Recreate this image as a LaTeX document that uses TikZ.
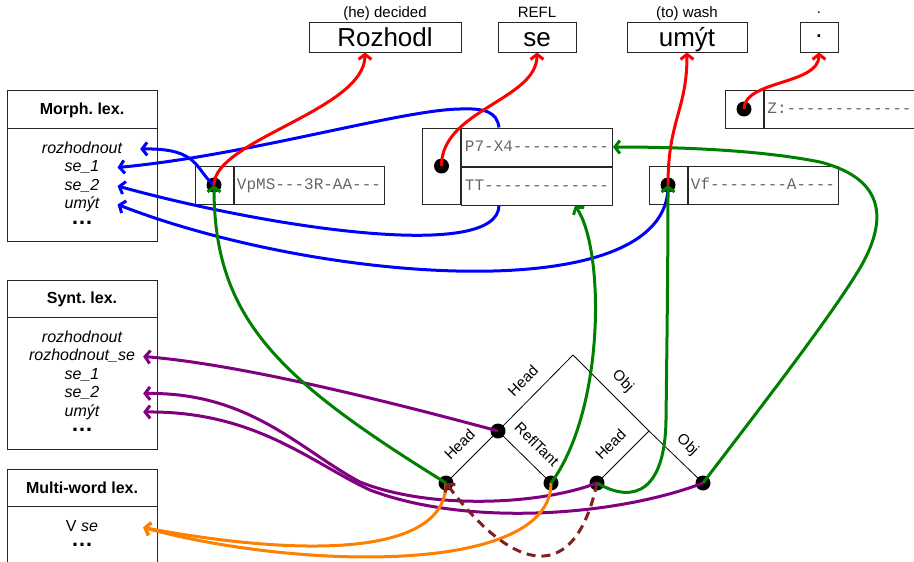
\documentclass[tikz,border=0pt]{standalone}
\usepackage{fontspec}
\setmainfont{Liberation Sans}
\setmonofont{Liberation Mono}
\usepackage{tikz}
\usetikzlibrary{arrows.meta,positioning,calc}
\frenchspacing

\definecolor{formred}{RGB}{255,0,0}
\definecolor{morphblue}{RGB}{0,0,255}
\definecolor{treegreen}{RGB}{0,128,0}
\definecolor{syntpurple}{RGB}{128,0,128}
\definecolor{mweorange}{RGB}{255,128,0}
\definecolor{sharebrown}{RGB}{128,32,32}

\tikzset{
  box/.style={draw=black!85, line width=1pt},
  lexhead/.style={font=\fontsize{16}{18}\selectfont\bfseries, text height=11.5pt, text depth=0pt, inner sep=0pt},
  lexitem/.style={font=\fontsize{16}{18}\selectfont\itshape, text height=11.5pt, text depth=3.5pt, inner xsep=18pt, inner ysep=0pt},
  lexslot/.style={font=\fontsize{16}{18}\selectfont\itshape, text height=11.5pt, text depth=3.5pt, minimum width=122pt, inner sep=0pt},
  lexmore/.style={font=\fontsize{22}{24}\selectfont\bfseries, inner sep=0pt},
  word/.style={draw=black!85, line width=1pt, minimum height=30pt, inner sep=0pt, text height=18.7pt, text depth=0pt, font=\fontsize{26}{28}\selectfont},
  gloss/.style={font=\fontsize{15}{17}\selectfont, text height=11pt, text depth=3pt, inner sep=0.5pt},
  cell/.style={draw=black!85, line width=1pt, minimum width=38pt, minimum height=38pt, inner sep=0pt},
  tagrow/.style={draw=black!85, line width=1pt, minimum width=150pt, minimum height=38pt, inner sep=0pt, text height=9pt, text depth=0pt, text=black!60, font=\fontsize{16}{18}\ttfamily},
  dot/.style={circle, fill=black, inner sep=0pt, minimum size=15pt},
  tree/.style={line width=0.8pt},
  rel/.style={font=\fontsize{15}{17}\selectfont, sloped, inner sep=9pt, text height=11pt, text depth=3pt},
  link/.style={line width=3pt, -{Straight Barb[length=5pt,width=13pt]}},
}

\begin{document}
\begin{tikzpicture}[x=1pt,y=-1pt]
\useasboundingbox (0,0) rectangle (914,562);

% tokens of the sentence
\node[word, minimum width=152pt] (rozhodl) at (385,37) {Rozhodl};
\node[word, minimum width=78pt] (se) at (537,37) {se};
\node[word, minimum width=120pt] (umyt) at (687,37) {umýt};
\node[word, minimum width=38pt, text height=0pt] (stop) at (819,37) {.};
\node[gloss, above=0pt of rozhodl] (rozhodl-gl) {(he) decided};
\node[gloss, above=0pt of se] (se-gl) {REFL};
\node[gloss, above=0pt of umyt] (umyt-gl) {(to) wash};
\node[gloss, above=0pt of stop, text height=0pt, text depth=0pt, yshift=7.5pt] (stop-gl) {.};

% lexicons
\draw[box] (7,90) rectangle (157,241);
\draw[box] (7,128) -- (157,128);
\node[lexhead] (morph) at (82,109) {Morph. lex.};
\node[lexitem] (m-rozh) at (82,149) {rozhodnout};
\node[lexitem] (m-se1) at (82,167.5) {se\_1};
\node[lexitem] (m-se2) at (82,186) {se\_2};
\node[lexitem] (m-umyt) at (82,204.5) {umýt};
\node[lexmore] (m-more) at (82,222.5) {\ldots};

\draw[box] (7,280) rectangle (157,449);
\draw[box] (7,317) -- (157,317);
\node[lexhead] (synt) at (82,298) {Synt. lex.};
\node[lexslot] (s-rozh) at (82,338) {rozhodnout};
\node[lexslot] (s-rozhse) at (82,356.5) {rozhodnout\_se};
\node[lexslot] (s-se1) at (82,375) {se\_1};
\node[lexslot] (s-se2) at (82,393.5) {se\_2};
\node[lexslot] (s-umyt) at (82,412) {umýt};
\node[lexmore] (s-more) at (82,430) {\ldots};

\draw[box] (7,469) rectangle (157,575);
\draw[box] (7,506.5) -- (157,506.5);
\node[lexhead] (mwe) at (82,488) {Multi-word lex.};
\node[lexslot, font=\fontsize{16}{18}\selectfont] (w-vse) at (82,527.5) {V \textit{se}};
\node[lexmore] (w-more) at (82,545) {\ldots};

% morphological tags
\node[cell] (vp-cell) at (214,185) {};
\node[tagrow, right=0pt of vp-cell] (vp-tag) {VpMS---3R-AA---};
\node[dot] (vp) at (vp-cell) {};

\node[cell, minimum height=76pt] (se-cell) at (441.5,166) {};
\node[tagrow, anchor=north west, minimum width=151pt] (p7-tag) at (se-cell.north east) {P7-X4----------};
\node[tagrow, anchor=north west, minimum width=151pt] (tt-tag) at (p7-tag.south west) {TT-------------};
\node[dot] (p7) at (se-cell) {};

\node[cell] (vf-cell) at (668,185) {};
\node[tagrow, right=0pt of vf-cell] (vf-tag) {Vf--------A----};
\node[dot] (vf) at (vf-cell) {};

\node[cell] (z-cell) at (744,109) {};
\node[tagrow, right=0pt of z-cell, minimum width=151pt] (z-tag) {Z:-------------};
\node[dot] (z) at (z-cell) {};

% dependency tree
\coordinate (root) at (573,355);
\coordinate (obj) at (649,431);
\node[dot] (t-pred) at (498,431) {};
\node[dot] (t-rozhodl) at (446,483) {};
\node[dot] (t-se) at (551,483) {};
\node[dot] (t-umyt) at (597,483) {};
\node[dot] (t-obj) at (703,483) {};
\draw[tree] (t-pred.center) -- node[rel, above] {Head} (root);
\draw[tree] (root) -- node[rel, above] {Obj} (obj);
\draw[tree] (t-rozhodl.center) -- node[rel, above] {Head} (t-pred.center);
\draw[tree] (t-pred.center) -- node[rel, above] {ReflTant} (t-se.center);
\draw[tree] (t-umyt.center) -- node[rel, above] {Head} (obj);
\draw[tree] (obj) -- node[rel, above] {Obj} (t-obj.center);

% links to the lexicons
\draw[link, morphblue] (vp.center) .. controls (195,170) and (200,148) .. (m-rozh.east);
\draw[link, morphblue] ($(p7-tag.north west)!.25!(p7-tag.north east)$) .. controls (497,112) and (485,108) .. (460,109) .. controls (400,110) and (250,155) .. (m-se1.east);
\draw[link, morphblue] ($(tt-tag.south west)!.25!(tt-tag.south east)$) .. controls (498,262) and (270,228) .. (m-se2.east);
\draw[link, morphblue] (vf.center) .. controls (670,310) and (320,283) .. (m-umyt.east);

\draw[link, syntpurple] (t-pred.center) .. controls (420,410) and (250,365) .. (s-rozhse.east);
\draw[link, syntpurple] (t-umyt.center) .. controls (540,505) and (430,510) .. (360,482) .. controls (300,450) and (250,392) .. (s-se2.east);
\draw[link, syntpurple] (t-obj.center) .. controls (620,515) and (470,528) .. (370,490) .. controls (310,462) and (255,411) .. (s-umyt.east);

\draw[link, mweorange] (t-rozhodl.center) .. controls (446,560) and (290,555) .. (w-vse.east);
\draw[link, mweorange] (t-se.center) .. controls (551,575) and (300,570) .. (w-vse.east);

% tree nodes to tags
\draw[link, treegreen] (t-rozhodl.center) .. controls (280,380) and (214,320) .. (vp.center);
\draw[link, treegreen] (t-se.center) .. controls (605,410) and (605,250) .. ($(tt-tag.south west)!.75!(tt-tag.south east)$);
\draw[link, treegreen] (t-umyt.center) .. controls (635,505) and (665,490) .. (666,420) .. controls (667,340) and (668,260) .. (vf.center);
\draw[link, treegreen] (t-obj.center) .. controls (760,408) and (830,318) .. (860,268) .. controls (885,225) and (890,180) .. (820,162) .. controls (760,150) and (680,147) .. (p7-tag.east);

\draw[link, sharebrown, dash pattern=on 9pt off 6pt] (t-umyt.center) .. controls (575,585) and (515,575) .. (t-rozhodl.center);

% tags to tokens
\draw[link, formred] (vp.center) .. controls (214,140) and (365,110) .. ([xshift=-20pt]rozhodl.south);
\draw[link, formred] (p7.center) .. controls (441,110) and (537,100) .. (se.south);
\draw[link, formred] (vf.center) .. controls (668,120) and (687,110) .. (umyt.south);
\draw[link, formred] (z.center) .. controls (744,80) and (819,85) .. (stop.south);
\end{tikzpicture}
\end{document}
